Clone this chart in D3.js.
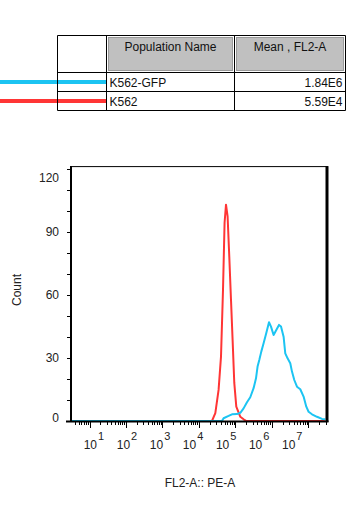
<!DOCTYPE html>
<html>
<head>
<meta charset="utf-8">
<script src="https://cdn.jsdelivr.net/npm/d3@7"></script>
<style>
  body { margin: 0; background: #fff; }
  svg { display: block; font-family: "Liberation Sans", Arial, sans-serif; }
</style>
</head>
<body>
<svg id="chart" width="363" height="505"></svg>
<script>
// legend table
const popNames = ['K562-GFP', 'K562'];
const popMeans = ['1.84E6', '5.59E4'];
const popColors = ['#1cc4f2', '#ff3535'];
const headers = ['Population Name', 'Mean , FL2-A'];

// histogram traces: FL2-A as log10 exponent, and counts
const blueExp = [0.5, 4.63, 4.674, 4.811, 4.904, 5.041, 5.132, 5.222, 5.315, 5.405, 5.496, 5.562, 5.605, 5.652, 5.707, 5.77, 5.844, 5.918, 5.973, 6.044, 6.118, 6.192, 6.247, 6.318, 6.364, 6.427, 6.501, 6.548, 6.611, 6.685, 6.775, 6.866, 6.94, 7.003, 7.096, 7.233, 7.37, 7.46];
const blueCount = [0, 0, 1.3, 2.4, 3.2, 3.3, 3.9, 6.0, 8.9, 11.3, 15.6, 20.3, 25.9, 29.0, 33.0, 37.0, 41.8, 47.0, 44.9, 40.9, 43.3, 45.7, 44.9, 40.1, 32.2, 29.8, 27.5, 23.5, 19.5, 16.3, 15.1, 11.6, 6.8, 4.4, 3.2, 2.0, 1.0, 0.8];
const redExp = [0.5, 4.356, 4.447, 4.537, 4.603, 4.658, 4.701, 4.74, 4.784, 4.83, 4.877, 4.921, 4.967, 5.022, 5.132, 5.222, 5.3, 7.45];
const redCount = [0, 0, 3.7, 14.8, 30.6, 62.4, 94.3, 102.9, 97.3, 78.2, 57.6, 38.6, 18.1, 6.8, 2.0, 0.8, 0, 0];

const yTicks = [0, 10, 20, 30, 40, 50, 60, 70, 80, 90, 100, 110, 120];
const yLabels = [0, 30, 60, 90, 120];
const decades = [1, 2, 3, 4, 5, 6, 7];

const svg = d3.select('#chart');

// ---- table ----
const tX = [57.5, 106.5, 234.5, 345.5];
const tY = [35.5, 72.5, 91.5, 110.5];
const tab = svg.append('g');

headers.forEach((h, i) => {
  const x0 = tX[i + 1], x1 = tX[i + 2];
  tab.append('rect')
    .attr('x', x0 + 2).attr('y', tY[0] + 2)
    .attr('width', x1 - x0 - 4).attr('height', tY[1] - tY[0] - 4)
    .attr('fill', '#c0c0c0').attr('stroke', '#9a9a9a').attr('stroke-width', 1);
  tab.append('text')
    .attr('x', (x0 + x1) / 2).attr('y', tY[0] + 15.5)
    .attr('text-anchor', 'middle').attr('font-size', 12).attr('fill', '#111')
    .text(h);
});

popNames.forEach((n, i) => {
  const yMid = (tY[i + 1] + tY[i + 2]) / 2;
  tab.append('line')
    .attr('x1', 0).attr('x2', tX[1]).attr('y1', yMid).attr('y2', yMid)
    .attr('stroke', popColors[i]).attr('stroke-width', 4);
  tab.append('text')
    .attr('x', tX[1] + 3).attr('y', tY[i + 1] + 14)
    .attr('font-size', 12).attr('fill', '#111').text(n);
  tab.append('text')
    .attr('x', tX[3] - 3).attr('y', tY[i + 1] + 14)
    .attr('text-anchor', 'end').attr('font-size', 12).attr('fill', '#111').text(popMeans[i]);
});

// grid lines of the table
tY.forEach(v => tab.append('line').attr('x1', tX[0]).attr('x2', tX[3]).attr('y1', v).attr('y2', v)
  .attr('stroke', '#000').attr('stroke-width', 1));
tX.forEach(v => tab.append('line').attr('x1', v).attr('x2', v).attr('y1', tY[0]).attr('y2', tY[3])
  .attr('stroke', '#000').attr('stroke-width', 1));

// ---- histogram ----
const pLeft = 71, pRight = 326, pTop = 166.6, pBottom = 421;

const x = d3.scaleLog()
  .domain([Math.pow(10, 0.493), Math.pow(10, 7.48)])
  .range([pLeft, pRight]);
const y = d3.scaleLinear().domain([0, 121]).range([pBottom, pTop]);
// tick labels in the source sit on a slightly tighter spacing than the ticks
const xLab = d3.scaleLinear().domain([1, 7]).range([90.7, 289]);

const plot = svg.append('g');
svg.append('clipPath').attr('id', 'clip')
  .append('rect').attr('x', pLeft).attr('y', pTop - 1).attr('width', pRight - pLeft).attr('height', pBottom - pTop + 1);

const line = d3.line()
  .x(d => x(Math.pow(10, d[0])))
  .y(d => y(d[1]));

const series = [
  { exp: redExp, cnt: redCount, color: popColors[1] },
  { exp: blueExp, cnt: blueCount, color: popColors[0] }
];
series.forEach(s => {
  plot.append('path')
    .attr('clip-path', 'url(#clip)')
    .attr('d', line(s.exp.map((e, i) => [e, s.cnt[i]])))
    .attr('fill', 'none')
    .attr('stroke', s.color)
    .attr('stroke-width', 2)
    .attr('stroke-linejoin', 'round');
});

// frame
plot.append('line').attr('x1', pLeft).attr('x2', pRight + 2).attr('y1', pTop).attr('y2', pTop)
  .attr('stroke', '#000').attr('stroke-width', 1);
plot.append('line').attr('x1', pRight + 1).attr('x2', pRight + 1).attr('y1', pTop - 0.5).attr('y2', pBottom + 1)
  .attr('stroke', '#000').attr('stroke-width', 3);
plot.append('line').attr('x1', pLeft).attr('x2', pLeft).attr('y1', pTop - 0.5).attr('y2', pBottom + 1)
  .attr('stroke', '#000').attr('stroke-width', 2);
plot.append('line').attr('x1', pLeft - 5).attr('x2', pRight + 2.5).attr('y1', pBottom + 0.5).attr('y2', pBottom + 0.5)
  .attr('stroke', '#000').attr('stroke-width', 2);

// y axis
const yAxis = plot.append('g');
yAxis.selectAll('line.tk').data(yTicks).enter().append('line')
  .attr('x1', pLeft - 4).attr('x2', pLeft)
  .attr('y1', d => Math.round(y(d)) + 0.5).attr('y2', d => Math.round(y(d)) + 0.5)
  .attr('stroke', '#000').attr('stroke-width', 1);
yAxis.selectAll('text').data(yLabels).enter().append('text')
  .attr('x', 59)
  .attr('y', d => Math.min(Math.max(y(d), pTop + 11), pBottom - 3))
  .attr('dy', '0.35em')
  .attr('text-anchor', 'end').attr('font-size', 12).attr('fill', '#222')
  .text(d => d);

// x axis ticks (log minors + decades)
const minor = [];
for (let k = 0; k <= 7; k++) {
  for (let m = 1; m <= 9; m++) {
    const v = m * Math.pow(10, k);
    if (v >= x.domain()[0] && v <= x.domain()[1]) minor.push({ v: v, major: m === 1 });
  }
}
const xAxis = plot.append('g');
xAxis.selectAll('line').data(minor).enter().append('line')
  .attr('x1', d => Math.round(x(d.v)) + 0.5).attr('x2', d => Math.round(x(d.v)) + 0.5)
  .attr('y1', pBottom + 1).attr('y2', d => pBottom + (d.major ? 7 : 4))
  .attr('stroke', '#000').attr('stroke-width', 1);

const lab = xAxis.selectAll('text').data(decades).enter().append('text')
  .attr('x', d => xLab(d) - 7).attr('y', 449)
  .attr('font-size', 12).attr('fill', '#222');
lab.append('tspan').text('10');
lab.append('tspan').attr('dx', 1).attr('dy', -9).attr('font-size', 11).text(d => d);

// axis titles
svg.append('text')
  .attr('transform', 'translate(21,290) rotate(-90)')
  .attr('text-anchor', 'middle').attr('font-size', 12).attr('fill', '#222')
  .text('Count');
svg.append('text')
  .attr('x', 200).attr('y', 487)
  .attr('text-anchor', 'middle').attr('font-size', 12).attr('fill', '#222')
  .text('FL2-A:: PE-A');
</script>
</body>
</html>
